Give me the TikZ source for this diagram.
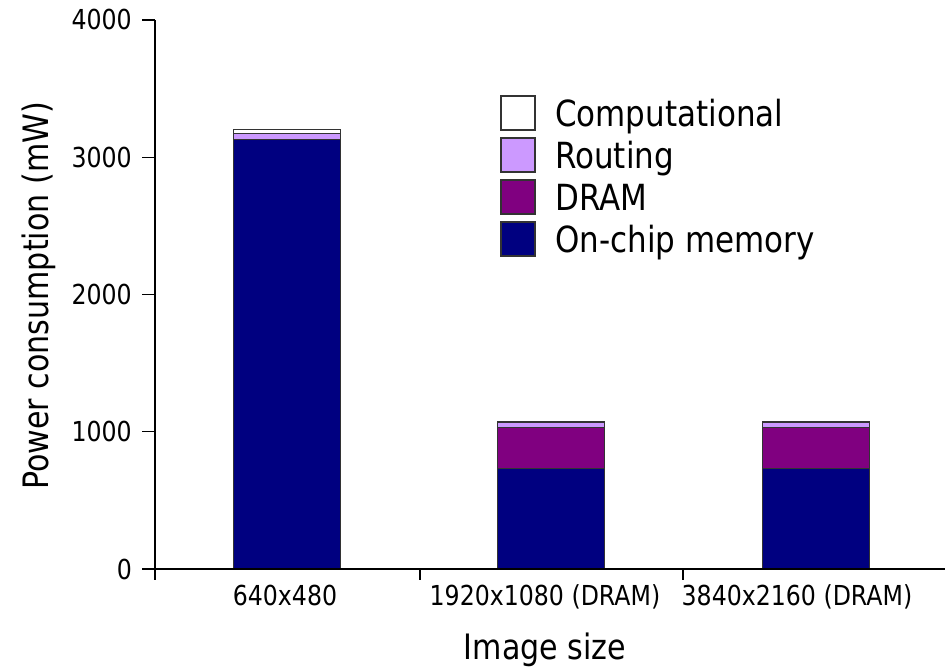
\documentclass[tikz,border=0pt]{standalone}
\usepackage{fontspec}
\setmainfont[FakeStretch=0.86]{DejaVu Sans}
\definecolor{onchip}{HTML}{000080}
\definecolor{dram}{HTML}{800080}
\definecolor{routing}{HTML}{CC99FF}
\definecolor{comp}{HTML}{FFFFFF}
\definecolor{axisgray}{HTML}{333333}
\tikzset{
  axisline/.style={draw=black, line width=1.3pt},
  segment/.style={draw=axisgray, line width=1pt},
  ticklabel/.style={font=\fontsize{27.5}{33}\selectfont, inner sep=0pt},
  catlabel/.style={font=\fontsize{27.5}{33}\selectfont, inner sep=0pt, anchor=base},
  titlelabel/.style={font=\fontsize{35}{42}\selectfont, inner sep=0pt, anchor=base},
  legendtext/.style={font=\fontsize{36}{43}\selectfont, inner sep=0pt, anchor=base west},
  legendbox/.style={draw=axisgray, line width=1.2pt},
}
\begin{document}
\begin{tikzpicture}[x=1pt,y=1pt]
\useasboundingbox (0,0) rectangle (945,671);
\fill[white] (0,0) rectangle (945,671);
% vertical scale: pt per mW
\def\vs{0.13725}
\begin{scope}[shift={(155,102)}]
  % stacked bars: centre, on-chip, DRAM, routing, computational
  \foreach \cx/\a/\b/\c/\d in {132/3130/0/45/25, 396/735/295/35/12, 661/735/295/35/12}{
    \pgfmathsetmacro{\ya}{\a*\vs}
    \pgfmathsetmacro{\yb}{(\a+\b)*\vs}
    \pgfmathsetmacro{\yc}{(\a+\b+\c)*\vs}
    \pgfmathsetmacro{\yd}{(\a+\b+\c+\d)*\vs}
    \filldraw[segment, fill=onchip] (\cx-53.5,0) rectangle (\cx+53.5,\ya);
    \ifdim\b pt>0pt
      \filldraw[segment, fill=dram] (\cx-53.5,\ya) rectangle (\cx+53.5,\yb);
    \fi
    \filldraw[segment, fill=routing] (\cx-53.5,\yb) rectangle (\cx+53.5,\yc);
    \filldraw[segment, fill=comp] (\cx-53.5,\yc) rectangle (\cx+53.5,\yd);
  }
  % value axis with ticks and labels
  \coordinate (ybot) at (0,0);
  \coordinate (ytop) at (0,549);
  \draw[axisline] (ybot) -- (ytop);
  \foreach \v in {0,1000,2000,3000,4000}{
    \draw[axisline] (-13,\v*\vs) -- (0,\v*\vs);
    \node[ticklabel, anchor=east] (tick\v) at (-23,\v*\vs) {\v};
  }
  % category axis with ticks
  \coordinate (xleft) at (0,0);
  \coordinate (xright) at (791,0);
  \draw[axisline] (xleft) -- (xright);
  \foreach \t in {0,265,528}{
    \draw[axisline] (\t,0) -- (\t,-11);
  }
  \node[catlabel] (cat1) at (130,-37) {640x480};
  \node[catlabel] (cat2) at (390,-37) {1920x1080 (DRAM)};
  \node[catlabel] (cat3) at (642,-37) {3840x2160 (DRAM)};
\end{scope}
% axis titles
\node[titlelabel] (xtitle) at (545,11) {Image size};
\node[titlelabel, rotate=90] (ytitle) at (48,375) {Power consumption (mW)};
% legend
\foreach \col/\txt/\top [count=\i] in {comp/Computational/575, routing/Routing/533, dram/DRAM/491, onchip/On-chip memory/449}{
  \filldraw[legendbox, fill=\col] (501,\top) rectangle (535,\top-34);
  \node[legendtext] (leg\i) at (555,\top-31) {\txt};
}
\end{tikzpicture}
\end{document}
